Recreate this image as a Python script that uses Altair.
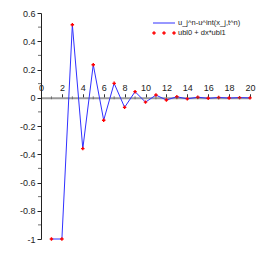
import altair as alt
import pandas as pd

xs = list(range(1, 21))
err = [-1.0, -1.0, 0.517, -0.36, 0.234, -0.159, 0.102, -0.068, 0.043, -0.031,
       0.019, -0.016, 0.007, -0.008, 0.004, -0.004, 0.002, -0.002, 0.001, -0.001]
approx = [-1.0, -1.0, 0.517, -0.36, 0.234, -0.159, 0.102, -0.068, 0.043, -0.031,
          0.019, -0.016, 0.007, -0.008, 0.004, -0.004, 0.002, -0.002, 0.001, -0.001]
y_major = [-1.0, -0.8, -0.6, -0.4, -0.2, 0.0, 0.2, 0.4, 0.6]
y_minor = [-0.9, -0.7, -0.5, -0.3, -0.1, 0.1, 0.3, 0.5]
x_major = [0, 2, 4, 6, 8, 10, 12, 14, 16, 18, 20]
x_minor = [1, 3, 5, 7, 9, 11, 13, 15, 17, 19]
legend_labels = ["u_j^n-u^int(x_j,t^n)", "ubl0 + dx*ubl1"]

W, H = 209, 226
YMIN, YMAX = -1.0, 0.6
FONT = "Liberation Sans"

df = pd.DataFrame({"x": xs, "err": err, "approx": approx})

xscale = alt.Scale(domain=[0, 20], nice=False, zero=False)
yscale = alt.Scale(domain=[YMIN, YMAX], nice=False, zero=False)

xaxis = alt.Axis(orient="top", offset=-(H * YMAX / (YMAX - YMIN)), values=x_major,
                 grid=False, title=None, domainColor="#9a9a9a", domainWidth=2,
                 tickColor="#333333", tickSize=4, labelPadding=1, labelFont=FONT,
                 labelFontSize=9, labelColor="#222222", labelFlush=False,
                 labelOverlap=False)
yaxis = alt.Axis(orient="left", values=y_major, grid=False, title=None,
                 domainColor="#222222", tickColor="#222222", tickSize=4,
                 labelPadding=2, labelFont=FONT, labelFontSize=9,
                 labelColor="#222222", labelExpr="datum.value + ''",
                 labelOverlap=False, labelFlush=False)

base = alt.Chart(df)

line = base.mark_line(color="#3030ff", strokeWidth=1).encode(
    x=alt.X("x:Q", scale=xscale, axis=xaxis),
    y=alt.Y("err:Q", scale=yscale, axis=yaxis),
)
pts = base.mark_point(shape="cross", filled=True, color="#ff0000", size=12, opacity=1).encode(
    x=alt.X("x:Q", scale=xscale, axis=xaxis),
    y=alt.Y("approx:Q", scale=yscale, axis=yaxis),
)

xmin_df = pd.DataFrame({"x": x_minor, "y": [0.0] * len(x_minor)})
xminor = alt.Chart(xmin_df).mark_tick(orient="vertical", size=3, thickness=1, color="#555555").encode(
    x=alt.X("x:Q", scale=xscale, axis=xaxis), y=alt.Y("y:Q", scale=yscale, axis=yaxis))
ymin_df = pd.DataFrame({"y": y_minor, "x": [0.0] * len(y_minor)})
yminor = alt.Chart(ymin_df).mark_tick(orient="horizontal", size=3, thickness=1, color="#333333", xOffset=-1.5).encode(
    x=alt.X("x:Q", scale=xscale, axis=xaxis), y=alt.Y("y:Q", scale=yscale, axis=yaxis))

leg_line = alt.Chart(pd.DataFrame({"k": [0]})).mark_rule(color="#3030ff", strokeWidth=1).encode(
    x=alt.value(112), x2=alt.value(134), y=alt.value(10))
leg_pts_df = pd.DataFrame({"px": [113, 123, 133]})
leg_pts = alt.Chart(leg_pts_df).mark_point(shape="cross", filled=True, color="#ff0000", size=12, opacity=1).encode(
    x=alt.X("px:Q", scale=None), y=alt.value(20))
leg_text_df = pd.DataFrame({"t": legend_labels, "py": [10, 20]})
leg_text = alt.Chart(leg_text_df).mark_text(align="left", baseline="middle", font=FONT, fontSize=7.5,
                                            color="#222222").encode(
    x=alt.value(137), y=alt.Y("py:Q", scale=None), text="t:N")

chart = alt.layer(line, pts, yminor, xminor, leg_line, leg_pts, leg_text).properties(
    width=W, height=H, autosize=alt.AutoSizeParams(type="none"),
    padding={"left": 33, "top": 5, "right": 20, "bottom": 20},
    background="white",
).configure_view(stroke=None)

chart.save("out.html", embed_options={"renderer": "svg", "actions": False})
